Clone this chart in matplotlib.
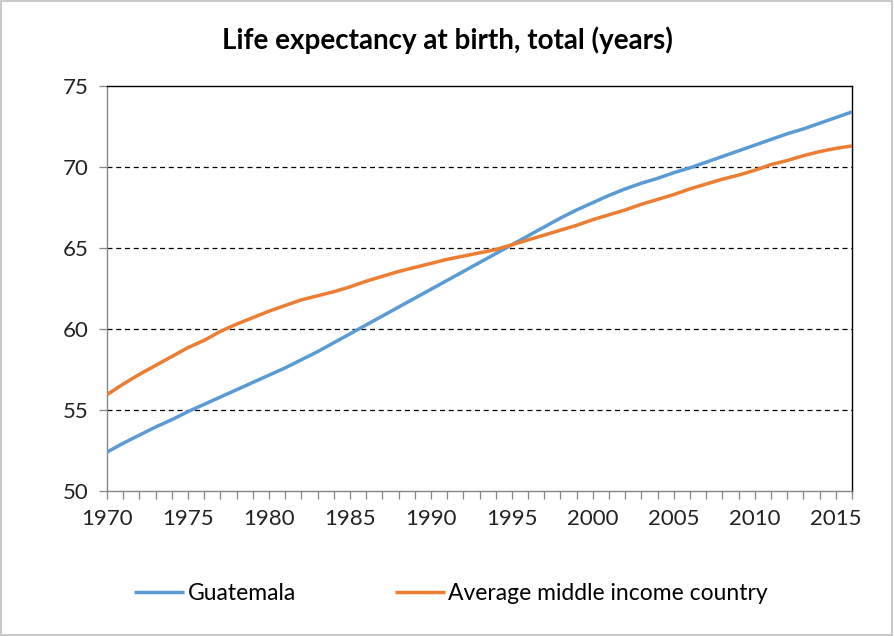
import matplotlib
matplotlib.use("Agg")
import matplotlib.pyplot as plt
from matplotlib.patches import Rectangle

plt.rcParams['font.family'] = ['Lato', 'DejaVu Sans']

years = list(range(1970, 2017))
guatemala = [52.4, 52.95, 53.45, 53.95, 54.4, 54.9, 55.35, 55.8, 56.25, 56.7,
             57.15, 57.6, 58.1, 58.6, 59.15, 59.7, 60.25, 60.8, 61.35, 61.9,
             62.45, 63.0, 63.55, 64.1, 64.65, 65.2, 65.75, 66.3, 66.85, 67.35,
             67.8, 68.25, 68.65, 69.0, 69.3, 69.65, 69.95, 70.3, 70.65, 71.0,
             71.35, 71.7, 72.05, 72.35, 72.7, 73.05, 73.4]
middle_income = [55.95, 56.6, 57.2, 57.75, 58.3, 58.85, 59.3, 59.85, 60.3, 60.7,
                 61.1, 61.45, 61.8, 62.05, 62.3, 62.6, 62.95, 63.25, 63.55, 63.8,
                 64.05, 64.3, 64.5, 64.7, 64.9, 65.2, 65.5, 65.8, 66.1, 66.4,
                 66.75, 67.05, 67.35, 67.7, 68.0, 68.3, 68.65, 68.95, 69.25, 69.5,
                 69.8, 70.15, 70.4, 70.7, 70.95, 71.15, 71.3]
series_names = ["Guatemala", "Average middle income country"]
title = "Life expectancy at birth, total (years)"
x_labels = [str(y) if (y - 1970) % 5 == 0 else "" for y in years]
y_ticks = [50, 55, 60, 65, 70, 75]

fig = plt.figure(figsize=(8.94, 6.36), dpi=100)
ax = fig.add_axes([107/894, 1-491/636, (852-107)/894, (491-86)/636])

ax.plot(years, guatemala, color="#5B9BD5", lw=2.5, label=series_names[0], solid_capstyle='butt', zorder=3)
ax.plot(years, middle_income, color="#ED7D31", lw=2.5, label=series_names[1], solid_capstyle='butt', zorder=3)

ax.set_xlim(years[0], years[-1])
ax.set_ylim(y_ticks[0], y_ticks[-1])
ax.set_yticks(y_ticks)
ax.set_xticks(years)
ax.set_xticklabels(x_labels)
for y in y_ticks[1:-1]:
    ax.axhline(y, color="black", lw=0.9, ls=(0, (4, 3)), zorder=1)

for s in ["top", "right"]:
    ax.spines[s].set_color("black")
    ax.spines[s].set_linewidth(1.0)
for s in ["left", "bottom"]:
    ax.spines[s].set_color("#868686")
    ax.spines[s].set_linewidth(1.0)
ax.tick_params(axis="both", direction="out", length=6, width=0.9, color="#868686",
               labelsize=16, labelcolor="#222222")
ax.tick_params(axis="x", pad=7)
ax.tick_params(axis="y", pad=7)

fig.text(0.5, 1-40/636, title, ha="center", va="center", fontsize=20, fontweight="bold", color="black")

fig.legend(loc="center", bbox_to_anchor=(451/894, 1-594/636), ncol=2, frameon=False,
           fontsize=16.5, handlelength=2.2, handletextpad=0.15, columnspacing=4.3)

fig.patches.append(Rectangle((0.001, 0.001), 0.997, 0.997, transform=fig.transFigure,
                             fill=False, edgecolor="#BFBFBF", lw=1.2))

fig.savefig("out.png", dpi=100)
